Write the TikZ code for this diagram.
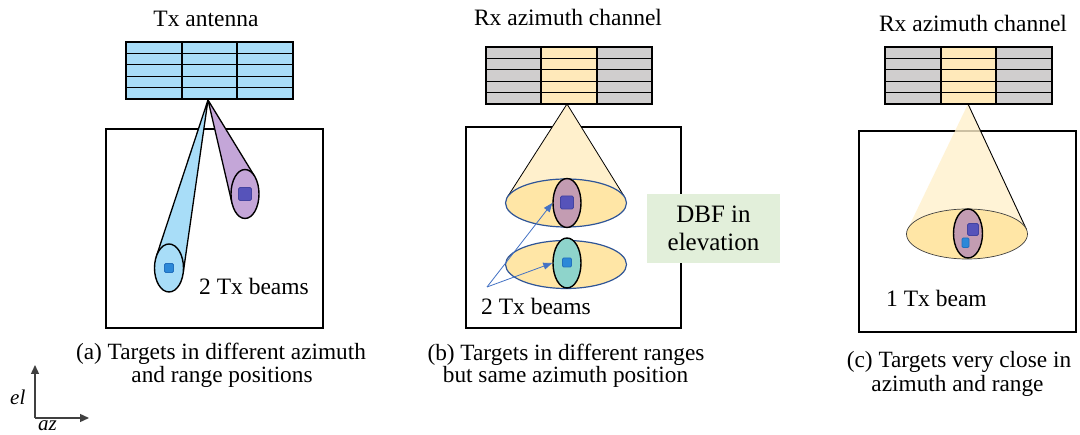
\documentclass[tikz,border=0pt]{standalone}
\usepackage{fontspec}
\setmainfont{Liberation Serif}
\usetikzlibrary{shapes.geometric,arrows.meta}
\definecolor{txblue}{HTML}{A8DDF8}
\definecolor{lilac}{HTML}{C4A6D8}
\definecolor{greyc}{HTML}{D0CECE}
\definecolor{ycol}{HTML}{FFE9BA}
\definecolor{conefill}{HTML}{FFF0CC}
\definecolor{ellfill}{HTML}{FFE6A6}
\definecolor{mauve}{HTML}{C39CB2}
\definecolor{tealc}{HTML}{8ED4CB}
\definecolor{dbfgreen}{HTML}{E2EFDA}
\definecolor{darkblue}{HTML}{2F5597}
\definecolor{arrowblue}{HTML}{4472C4}
\definecolor{sqdark}{HTML}{5653BA}
\definecolor{sqdarkb}{HTML}{4343A0}
\definecolor{sqlight}{HTML}{2C88D8}
\definecolor{sqlightb}{HTML}{2270BE}
\definecolor{axgrey}{HTML}{404040}
% x0 xa xb x1 y0 y1 side mid
\newcommand\antgrid[8]{%
  \fill[#7] (#1,#5) rectangle (#2,#6);
  \fill[#8] (#2,#5) rectangle (#3,#6);
  \fill[#7] (#3,#5) rectangle (#4,#6);
  \draw[gridline] (#1,#5) rectangle (#4,#6);
  \draw[gridline] (#2,#5) -- (#2,#6) (#3,#5) -- (#3,#6);
  \foreach \i in {1,2,3,4} {\draw[gridline] (#1,{#5+\i*(#6-#5)/5}) -- (#4,{#5+\i*(#6-#5)/5});}
}
\begin{document}
\begin{tikzpicture}[x=1pt,y=-1pt,
  boxline/.style={draw=black, line width=1.4pt},
  gridline/.style={draw=black, line width=1.3pt},
  beamline/.style={draw=black, line width=1.3pt, line join=round},
  tgt/.style={ellipse, draw=black, line width=1.4pt, inner sep=0pt},
  rng/.style={ellipse, draw=darkblue, line width=1.2pt, fill=ellfill, inner sep=0pt, minimum width=121, minimum height=48},
  sqd/.style={draw=sqdarkb, fill=sqdark, line width=0.8pt, rounded corners=1.5pt},
  sql/.style={draw=sqlightb, fill=sqlight, line width=0.8pt, rounded corners=1.2pt},
  titletxt/.style={font=\fontsize{23.5}{27}\selectfont, inner sep=0pt, anchor=base},
  lbl/.style={font=\fontsize{23.5}{27}\selectfont, inner sep=0pt, anchor=base west},
  captxt/.style={font=\fontsize{23.3}{27}\selectfont, inner sep=0pt, anchor=base},
  dbftxt/.style={font=\fontsize{25}{29}\selectfont, inner sep=0pt, anchor=base},
  ptr/.style={draw=arrowblue, line width=0.8pt, -{Triangle[length=9pt,width=7pt]}},
  axarrow/.style={draw=axgrey, line width=1.4pt, -{Triangle[length=9pt,width=8pt]}}
]
\useasboundingbox (0,0) rectangle (1080,435);
\fill[white] (0,0) rectangle (1080,435);

% ---------------- panel (a)
\node[titletxt] (ta) at (206,27) {Tx antenna};
\draw[boxline] (106,129) rectangle (323,328);
\filldraw[beamline, fill=txblue] (208,100) -- (183.1,273.5) -- (156.3,256.5) -- cycle;
\node[tgt, fill=txblue, minimum width=29, minimum height=48] (ba) at (169,268) {};
\filldraw[beamline, fill=lilac] (208,100) -- (254.5,176.1) -- (232,203.2) -- cycle;
\node[tgt, fill=lilac, minimum width=28, minimum height=49] (bb) at (245,194) {};
\draw[sql] (164.5,263.5) rectangle (173.5,272.5);
\draw[sqd] (238.5,187.5) rectangle (251.5,200.5);
\antgrid{126}{182}{237}{293}{42}{99}{txblue}{txblue}
\node[lbl] (la) at (199,295) {2 Tx beams};
\node[captxt] (ca1) at (221,360) {(a) Targets in different azimuth};
\node[captxt] (ca2) at (222,383) {and range positions};

% ---------------- panel (b)
\node[titletxt] (tb) at (568,26) {Rx azimuth channel};
\draw[boxline] (466,127) rectangle (681,328);
\filldraw[draw=black, line width=0.8pt, fill=conefill, line join=round] (567,104) -- (624.7,197.2) -- (507.3,197.2) -- cycle;
\node[rng] (r1) at (566,203) {};
\node[rng] (r2) at (566,264.5) {};
\node[tgt, fill=mauve, minimum width=28, minimum height=49] (t1) at (567,203) {};
\node[tgt, fill=tealc, minimum width=28, minimum height=50] (t2) at (567,263) {};
\draw[sqd] (560.5,196) rectangle (573.5,209);
\draw[sql] (562.5,258) rectangle (571.5,267);
\antgrid{486}{541}{597}{652}{47}{104}{greyc}{ycol}
\coordinate (src) at (487,287);
\draw[ptr] (src) -- (t1.west);
\draw[ptr] (src) -- (t2.west);
\node[lbl] (lb) at (481,315) {2 Tx beams};
\node[draw=none, fill=dbfgreen, minimum width=133, minimum height=69, inner sep=0pt] (dbfbox) at (713.5,228.5) {};
\node[dbftxt] (d1) at (713.5,223) {DBF in};
\node[dbftxt] (d2) at (713.5,251) {elevation};
\node[captxt] (cb1) at (566,360.5) {(b) Targets in different ranges};
\node[captxt] (cb2) at (565.5,383) {but same azimuth position};

% ---------------- panel (c)
\node[titletxt] (tc) at (973,31.5) {Rx azimuth channel};
\draw[boxline] (859,131) rectangle (1076,332);
\fill[conefill, opacity=0.8] (968,104) -- (1026.4,229.3) -- (907.7,229.1) -- cycle;
\draw[black, line width=0.9pt] (968,104) -- (1026.4,229.3);
\node[ellipse, draw=black!75, line width=0.7pt, fill=ellfill, inner sep=0pt, minimum width=121, minimum height=50] (r3) at (967,234) {};
\node[tgt, fill=mauve, minimum width=29, minimum height=49] (t3) at (968,233.5) {};
\draw[sqd] (967.5,223.5) rectangle (978.5,235.5);
\draw[sql] (962,238) rectangle (969,247.5);
\antgrid{885}{941}{996}{1052}{47}{104}{greyc}{ycol}
\node[lbl] (lc) at (886,307) {1 Tx beam};
\node[captxt] (cc1) at (959,368) {(c) Targets very close in};
\node[captxt] (cc2) at (957.5,391.5) {azimuth and range};

% ---------------- axes
\coordinate (o) at (35,418);
\coordinate (ely) at (35,365);
\coordinate (azx) at (89,418);
\draw[axarrow] (o) -- (ely);
\draw[axarrow] (o) -- (azx);
\node[font=\fontsize{21}{25}\selectfont\itshape, inner sep=0pt, anchor=base west] (el) at (10,405) {el};
\node[font=\fontsize{21}{25}\selectfont\itshape, inner sep=0pt, anchor=base west] (az) at (38,431) {az};
\end{tikzpicture}
\end{document}
